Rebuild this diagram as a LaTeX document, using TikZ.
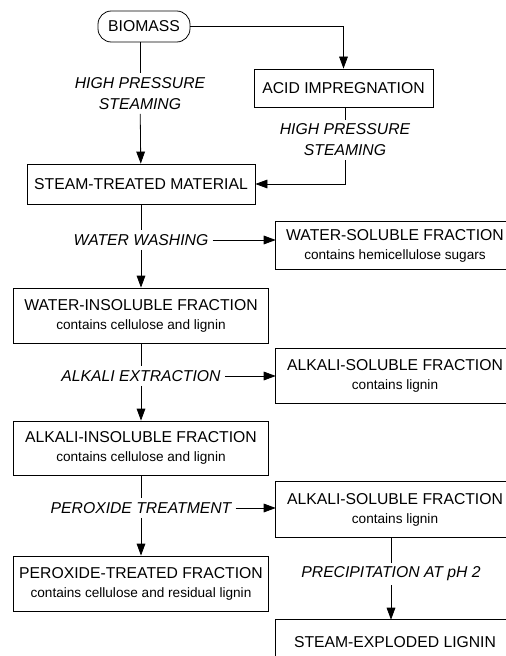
\documentclass[tikz,border=0pt]{standalone}
\usepackage{fontspec}
\setmainfont{Liberation Sans}
\usetikzlibrary{arrows.meta}
\newcommand{\mainsize}{\fontsize{11.8}{14.25}\selectfont}
\newcommand{\subsize}{\fontsize{10.2}{14.25}\selectfont}

\begin{document}
\begin{tikzpicture}[line cap=butt,line join=miter,>={Triangle[length=9pt,width=6.5pt]},x=0.75pt,y=-0.75pt,
    box/.style={draw,line width=0.6pt,align=center,inner sep=0pt,font=\mainsize},
    openbox/.style={align=center,inner sep=0pt,font=\mainsize,minimum width=178.5pt},
    stage/.style={align=center,inner sep=3pt,font=\mainsize\itshape,
        execute at begin node={\setlength{\baselineskip}{15.75pt}}}]
    \useasboundingbox (0,0) rectangle (506,656);
    \clip (0,0) rectangle (506,656);

    % Boxes on the left
    \draw(144,26.5) node[box,rounded corners=10pt,minimum width=69pt,minimum height=23.25pt] (BIO) {BIOMASS};
    \draw(343.5,88) node[box,minimum width=134.25pt,minimum height=28.5pt] (ACID) {ACID IMPREGNATION};
    \draw(141,184) node[box,minimum width=171pt,minimum height=30pt] (STM) {STEAM-TREATED MATERIAL};
    \draw(141,315.5) node[box,minimum width=191.25pt,minimum height=41.25pt] (WIF)
        {WATER-INSOLUBLE FRACTION\\{\subsize contains cellulose and lignin}};
    \draw(141,448) node[box,minimum width=191.25pt,minimum height=40.5pt] (AIF)
        {ALKALI-INSOLUBLE FRACTION\\{\subsize contains cellulose and lignin}};
    \draw(141,583.5) node[box,minimum width=191.25pt,minimum height=41.25pt] (PTF)
        {PEROXIDE-TREATED FRACTION\\{\subsize contains cellulose and residual lignin}};

    % Boxes on the right (they run off the page)
    \draw(395,245.5) node[openbox,minimum height=35.25pt] (WSF)
        {WATER-SOLUBLE FRACTION\\{\subsize contains hemicellulose sugars}};
    \draw(395,376) node[openbox,minimum height=40.5pt] (ASF1)
        {ALKALI-SOLUBLE FRACTION\\{\subsize contains lignin}};
    \draw(395,509.5) node[openbox,minimum height=41.25pt] (ASF2)
        {ALKALI-SOLUBLE FRACTION\\{\subsize contains lignin}};
    \draw(395,642) node[openbox,minimum height=33pt] (SEL) {STEAM-EXPLODED LIGNIN};
    \foreach \n in {WSF, ASF1, ASF2, SEL} {
            \draw[line width=0.6pt] (\n.north west) rectangle ([xshift=20pt]\n.south east);
        }

    % Process steps
    \draw(140,93.5) node[stage] (HPS1) {HIGH PRESSURE\\STEAMING};
    \draw(345,140) node[stage] (HPS2) {HIGH PRESSURE\\STEAMING};
    \draw(141,240) node[stage] (WW) {WATER WASHING};
    \draw(141,376) node[stage] (AE) {ALKALI EXTRACTION};
    \draw(141,508) node[stage] (PT) {PEROXIDE TREATMENT};
    \draw(391,574) node[stage] (PREC) {PRECIPITATION AT pH 2};

    % Edges
    \draw[line width=0.6pt] (BIO.south -| HPS1) -- (HPS1);
    \draw[line width=0.6pt,->] (HPS1) -- (STM);
    \draw[line width=0.6pt,->] (BIO.east) -| (ACID);
    \draw[line width=0.6pt] (ACID.south -| HPS2) -- (HPS2);
    \draw[line width=0.6pt,->] (HPS2) |- (STM.east);
    \foreach \source/\target in {STM/WW, WIF/AE, AIF/PT} {
            \draw[line width=0.6pt] (\source) -- (\target);
        }
    \foreach \source/\target in {WW/WIF, AE/AIF, PT/PTF} {
            \draw[line width=0.6pt,->] (\source) -- (\target);
        }
    \foreach \source/\target in {WW/WSF, AE/ASF1, PT/ASF2} {
            \draw[line width=0.6pt,->] (\source) -- (\source -| \target.west);
        }
    \draw[line width=0.6pt] (ASF2.south -| PREC) -- (PREC);
    \draw[line width=0.6pt,->] (PREC) -- (PREC |- SEL.north);
\end{tikzpicture}
\end{document}
